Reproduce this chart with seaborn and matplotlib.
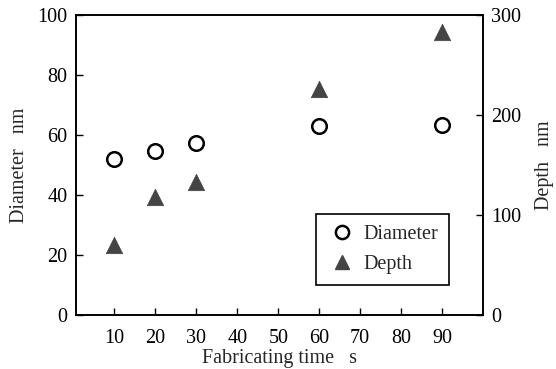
import matplotlib
matplotlib.use("Agg")
import matplotlib.pyplot as plt
import seaborn as sns
import pandas as pd
from matplotlib.lines import Line2D

sns.set_style("ticks")
plt.rcParams["font.family"] = ["Liberation Serif", "DejaVu Serif"]
plt.rcParams["font.size"] = 14

# Fabrication time (s) and measured hole geometry
time_diameter = [10, 20, 30, 60, 90]
diameter_nm = [52, 54.7, 57.3, 63, 63.5]
time_depth = [10, 20, 30, 60, 90]
depth_nm = [70, 118, 133, 226, 283]

x_ticks = [10, 20, 30, 40, 50, 60, 70, 80, 90]
left_ticks = [0, 20, 40, 60, 80, 100]
right_ticks = [0, 100, 200, 300]

df_d = pd.DataFrame({"time": time_diameter, "diameter": diameter_nm})
df_h = pd.DataFrame({"time": time_depth, "depth": depth_nm})

fig = plt.figure(figsize=(5.56, 3.69), dpi=100)
ax = fig.add_axes([0.1367, 0.1463, 0.732, 0.813])
ax2 = ax.twinx()

sns.scatterplot(data=df_d, x="time", y="diameter", ax=ax, marker="o",
                s=110, facecolor="white", edgecolor="black", linewidth=1.8,
                zorder=3, legend=False)
sns.scatterplot(data=df_h, x="time", y="depth", ax=ax2, marker="^",
                s=140, color="#444444", edgecolor="#444444", linewidth=0.5,
                zorder=3, legend=False)

ax.set_xlim(0.6, 100)
ax.set_ylim(0, 100)
ax2.set_ylim(0, 300)
ax.set_xticks(x_ticks)
ax.set_yticks(left_ticks)
ax2.set_yticks(right_ticks)

for a in (ax, ax2):
    for s in a.spines.values():
        s.set_linewidth(1.2)
        s.set_color("black")
ax.tick_params(axis="both", direction="in", length=5, width=1.0,
               labelsize=14.5, colors="black")
ax.tick_params(axis="y", pad=6)
ax.tick_params(axis="x", pad=10)
ax2.tick_params(axis="y", direction="in", length=5, width=1.0,
                labelsize=14.5, colors="black", pad=6)

ax.set_xlabel("Fabricating time   s", fontsize=14.5, labelpad=1)
ax.set_ylabel("Diameter   nm", fontsize=14.5, labelpad=6)
ax2.set_ylabel("Depth   nm", fontsize=14.5, labelpad=10)

handles = [
    Line2D([], [], linestyle="none", marker="o", markersize=9.5,
           markerfacecolor="white", markeredgecolor="black",
           markeredgewidth=1.8, label="Diameter"),
    Line2D([], [], linestyle="none", marker="^", markersize=10.5,
           markerfacecolor="#444444", markeredgecolor="#444444",
           label="Depth"),
]
leg = ax.legend(handles=handles, loc="lower right",
                bbox_to_anchor=(0.917, 0.1), frameon=True, fancybox=False,
                edgecolor="black", fontsize=14.5, handletextpad=0.3,
                handlelength=1.5, borderpad=0.55, labelspacing=0.55,
                borderaxespad=0)
leg.get_frame().set_linewidth(1.2)
leg.get_frame().set_alpha(1)

fig.savefig("out.png", dpi=100)
